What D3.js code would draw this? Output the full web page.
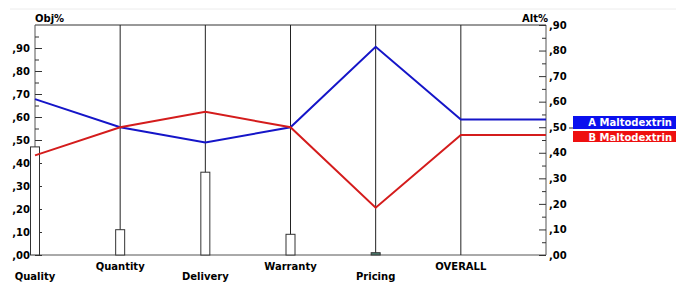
<!DOCTYPE html>
<html lang="en">
<head>
    <meta charset="UTF-8">
    <title>Obj% / Alt% profile</title>
    <script src="https://d3js.org/d3.v7.min.js"></script>
    <style>
        body { margin: 0; background: #fff; }
        text { font-family: "DejaVu Sans", sans-serif; font-weight: bold; font-size: 10px; fill: #000; }
    </style>
</head>
<body>
    <script>
        // criteria along the x axis
        var categories = ["Quality", "Quantity", "Delivery", "Warranty", "Pricing", "OVERALL"];
        // objective weights (left axis, bars)
        var objWeights = [0.47, 0.11, 0.36, 0.09, 0.01, null];
        // alternative scores (right axis, lines)
        var altA = [0.61, 0.50, 0.44, 0.50, 0.815, 0.53];
        var altB = [0.39, 0.50, 0.56, 0.50, 0.185, 0.47];
        var seriesNames = ["A Maltodextrin", "B Maltodextrin"];
        var seriesColors = ["#1515c8", "#d41c1c"];
        var legendColors = ["#0a10ee", "#ee1010"];
        var leftTicks = [0, 0.1, 0.2, 0.3, 0.4, 0.5, 0.6, 0.7, 0.8, 0.9];
        var rightTicks = [0, 0.1, 0.2, 0.3, 0.4, 0.5, 0.6, 0.7, 0.8, 0.9];

        var width = 676, height = 283;
        // plot edges (note: "top" is a reserved window property, so use other names)
        var pLeft = 35, pRight = 546, pTop = 25, pBottom = 255;

        var svg = d3.select("body").append("svg")
            .attr("width", width)
            .attr("height", height);

        // x positions: one per criterion plus the right axis
        var x = d3.scaleLinear().domain([0, categories.length]).range([pLeft, pRight]);
        var yLeft = d3.scaleLinear().domain([0, 1]).range([pBottom, pTop]);
        var yRight = d3.scaleLinear().domain([0, 0.9]).range([pBottom, pTop]);

        var fmt = function(d) { return d3.format(".2f")(d).replace("0.", ","); };

        // faint line at the very top
        svg.append("line").attr("x1", 10).attr("x2", width).attr("y1", 9).attr("y2", 9)
            .attr("stroke", "#ececec");

        // frame: top and bottom lines
        svg.append("line").attr("x1", pLeft).attr("x2", pRight).attr("y1", pTop).attr("y2", pTop)
            .attr("stroke", "#333");
        svg.append("line").attr("x1", pLeft).attr("x2", pRight).attr("y1", pBottom).attr("y2", pBottom)
            .attr("stroke", "#555");

        // vertical lines at each criterion and the right axis
        svg.selectAll(".vline")
            .data(d3.range(categories.length + 1))
            .enter().append("line")
            .attr("class", "vline")
            .attr("x1", function(i) { return x(i); })
            .attr("x2", function(i) { return x(i); })
            .attr("y1", pTop).attr("y2", pBottom)
            .attr("stroke", function(i) { return (i == 0 || i == categories.length) ? "#555" : "#222"; });

        // left axis (ticks inside, labels outside)
        var gl = svg.append("g").attr("transform", "translate(" + pLeft + ",0)");
        gl.call(d3.axisLeft(yLeft).tickValues(leftTicks).tickFormat(fmt).tickSize(-7).tickPadding(5));
        gl.append("g").call(d3.axisLeft(yLeft).tickValues(d3.range(0.05, 1, 0.1)).tickFormat("").tickSize(-4));
        gl.selectAll(".domain").remove();
        gl.selectAll("line").attr("stroke", "#333");
        gl.selectAll("text").attr("font-size", null).attr("font-family", null).attr("fill", "#000");

        // right axis
        var gr = svg.append("g").attr("transform", "translate(" + pRight + ",0)");
        gr.call(d3.axisRight(yRight).tickValues(rightTicks).tickFormat(fmt).tickSize(-7).tickPadding(3));
        gr.append("g").call(d3.axisRight(yRight).tickValues(d3.range(0.05, 0.9, 0.1)).tickFormat("").tickSize(-4));
        gr.selectAll(".domain").remove();
        gr.selectAll("line").attr("stroke", "#333");
        gr.selectAll("text").attr("font-size", null).attr("font-family", null).attr("fill", "#000");

        // axis titles
        svg.append("text").attr("x", pLeft).attr("y", 22).text("Obj%");
        svg.append("text").attr("x", pRight + 2).attr("y", 22).attr("text-anchor", "end").text("Alt%");

        // weight bars
        var barW = 9;
        svg.selectAll(".bar")
            .data(objWeights.map(function(v, i) { return { v: v, i: i }; }).filter(function(d) { return d.v != null; }))
            .enter().append("rect")
            .attr("class", "bar")
            .attr("x", function(d) { return x(d.i) - barW / 2; })
            .attr("y", function(d) { return yLeft(d.v); })
            .attr("width", barW)
            .attr("height", function(d) { return pBottom - yLeft(d.v); })
            .attr("fill", function(d) { return d.v < 0.03 ? "#4e8273" : "#fff"; })
            .attr("stroke", "#333");

        // alternative lines, extended flat to the right axis
        var line = d3.line()
            .x(function(d, i) { return x(i); })
            .y(function(d) { return yRight(d); });
        [altA, altB].forEach(function(s, k) {
            svg.append("path")
                .datum(s.concat([s[s.length - 1]]))
                .attr("d", line)
                .attr("fill", "none")
                .attr("stroke", seriesColors[k])
                .attr("stroke-width", 2);
        });

        // category labels, staggered
        svg.selectAll(".cat")
            .data(categories)
            .enter().append("text")
            .attr("class", "cat")
            .attr("x", function(d, i) { return x(i); })
            .attr("y", function(d, i) { return i % 2 == 0 ? 280 : 270; })
            .attr("text-anchor", "middle")
            .text(function(d) { return d; });

        // legend boxes
        var lg = svg.append("g");
        lg.append("line").attr("x1", 569).attr("x2", 573).attr("y1", 128).attr("y2", 128).attr("stroke", "#333");
        seriesNames.forEach(function(n, k) {
            var y0 = k == 0 ? 116 : 131;
            var h = k == 0 ? 13 : 11;
            lg.append("rect").attr("x", 573).attr("y", y0).attr("width", width - 573).attr("height", h)
                .attr("fill", legendColors[k]);
            lg.append("text").attr("x", 672).attr("y", y0 + 10).attr("text-anchor", "end")
                .style("fill", "#fff").text(n);
        });
    </script>
</body>
</html>
